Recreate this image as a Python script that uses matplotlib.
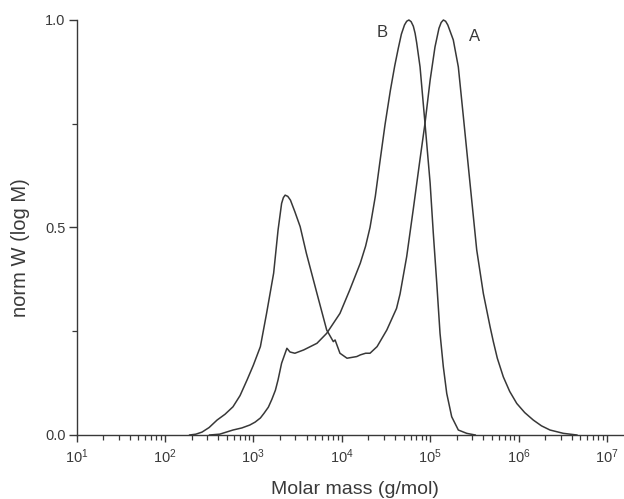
import numpy as np
import matplotlib
matplotlib.use("Agg")
import matplotlib.pyplot as plt
from matplotlib.ticker import LogLocator, FixedLocator

plt.rcParams["font.family"] = ["Liberation Sans", "DejaVu Sans"]
plt.rcParams["mathtext.fontset"] = "custom"
plt.rcParams["mathtext.rm"] = "Liberation Sans"

# ---- data: log10(M) and normalised W(log M) ----
logM_A = [2.28, 2.35, 2.42, 2.50, 2.59, 2.68, 2.77, 2.85, 2.93, 3.00, 3.08,
          3.15, 3.23, 3.28, 3.32, 3.34, 3.36, 3.39, 3.42, 3.47, 3.53, 3.60,
          3.72, 3.83, 3.905, 3.925, 3.98, 4.06, 4.17, 4.21, 4.27, 4.32, 4.40,
          4.51, 4.62, 4.66, 4.735, 4.81, 4.886, 4.942, 5.00, 5.055, 5.10,
          5.125, 5.15, 5.175, 5.20, 5.262, 5.319, 5.376, 5.451, 5.527, 5.602,
          5.678, 5.715, 5.76, 5.828, 5.90, 5.98, 6.07, 6.167, 6.26, 6.356,
          6.507, 6.66]
w_A = [0.0, 0.002, 0.007, 0.018, 0.036, 0.050, 0.068, 0.095, 0.133, 0.168, 0.213,
       0.293, 0.390, 0.494, 0.558, 0.572, 0.578, 0.575, 0.566, 0.538, 0.502, 0.438,
       0.341, 0.253, 0.225, 0.229, 0.197, 0.185, 0.189, 0.193, 0.197, 0.197, 0.213,
       0.253, 0.305, 0.340, 0.430, 0.545, 0.665, 0.751, 0.855, 0.935, 0.980,
       0.994, 1.0, 0.997, 0.988, 0.952, 0.887, 0.767, 0.607, 0.446, 0.341,
       0.261, 0.225, 0.185, 0.140, 0.105, 0.076, 0.054, 0.036, 0.022, 0.012,
       0.004, 0.0]

logM_B = [2.505, 2.62, 2.77, 2.87, 2.96, 3.02, 3.08, 3.12, 3.17, 3.21, 3.25,
          3.28, 3.32, 3.38, 3.415, 3.47, 3.57, 3.72, 3.83, 3.98, 4.09, 4.21,
          4.27, 4.32, 4.38, 4.43, 4.49, 4.55, 4.60, 4.64, 4.675, 4.71, 4.735,
          4.76, 4.785, 4.81, 4.83, 4.848, 4.886, 4.942, 5.00, 5.036, 5.075,
          5.112, 5.149, 5.188, 5.244, 5.319, 5.414, 5.51]
w_B = [0.0, 0.002, 0.012, 0.017, 0.024, 0.031, 0.041, 0.052, 0.067, 0.086, 0.108,
       0.133, 0.173, 0.209, 0.200, 0.197, 0.205, 0.221, 0.245, 0.293, 0.349, 0.414,
       0.455, 0.500, 0.575, 0.655, 0.748, 0.830, 0.890, 0.932, 0.966, 0.988, 0.997,
       1.0, 0.996, 0.985, 0.968, 0.945, 0.887, 0.751, 0.607, 0.486, 0.366,
       0.245, 0.165, 0.100, 0.044, 0.012, 0.004, 0.0]

labels = {"A": (5.497, 0.961), "B": (4.456, 0.969)}

# ---- figure ----
W, H = 624, 499
fig = plt.figure(figsize=(W / 100, H / 100), dpi=100)
ax = fig.add_axes([76.5 / W, 1 - 435 / H, 1 - 76.5 / W, (435 - 20) / H])

col = "#383838"
for lm, w in ((logM_A, w_A), (logM_B, w_B)):
    ax.plot(10 ** np.array(lm), w, color=col, lw=1.1, clip_on=False,
            solid_joinstyle="round")

for name, (lm, w) in labels.items():
    ax.text(10 ** lm, w, name, ha="center", va="center", fontsize=12, color=col)

ax.set_xscale("log")
ax.set_xlim(10, 10 ** 7.193)
ax.set_ylim(0, 1.0)

ax.xaxis.set_major_locator(FixedLocator([10.0 ** k for k in range(1, 8)]))
ax.xaxis.set_minor_locator(LogLocator(base=10, subs=np.arange(2, 10), numticks=20))
ax.set_yticks([0.0, 0.5, 1.0])
ax.set_yticklabels(["0.0", "0.5", "1.0"])
ax.yaxis.set_minor_locator(FixedLocator([0.25, 0.75]))

for s in ("top", "right"):
    ax.spines[s].set_visible(False)
for s in ("left", "bottom"):
    ax.spines[s].set_color(col)
    ax.spines[s].set_linewidth(1.0)

ax.tick_params(which="major", direction="out", length=6, width=1.0, color=col,
               labelsize=10.5, labelcolor="#3a3a3a")
ax.tick_params(which="minor", direction="out", length=3.5, width=0.9, color=col)
ax.tick_params(axis="y", which="major", pad=2)
ax.tick_params(axis="x", which="major", length=5, pad=4)

ax.set_xlabel("Molar mass (g/mol)", fontsize=14, color="#3a3a3a", va="center")
ax.set_ylabel("norm W (log M)", fontsize=14.5, color="#3a3a3a", va="center")
ax.xaxis.set_label_coords((355 - 76.5) / (W - 76.5), (435 - 490) / 415)
ax.yaxis.set_label_coords((21 - 76.5) / (W - 76.5), (435 - 248) / 415)

fig.savefig("out.png", dpi=100)
